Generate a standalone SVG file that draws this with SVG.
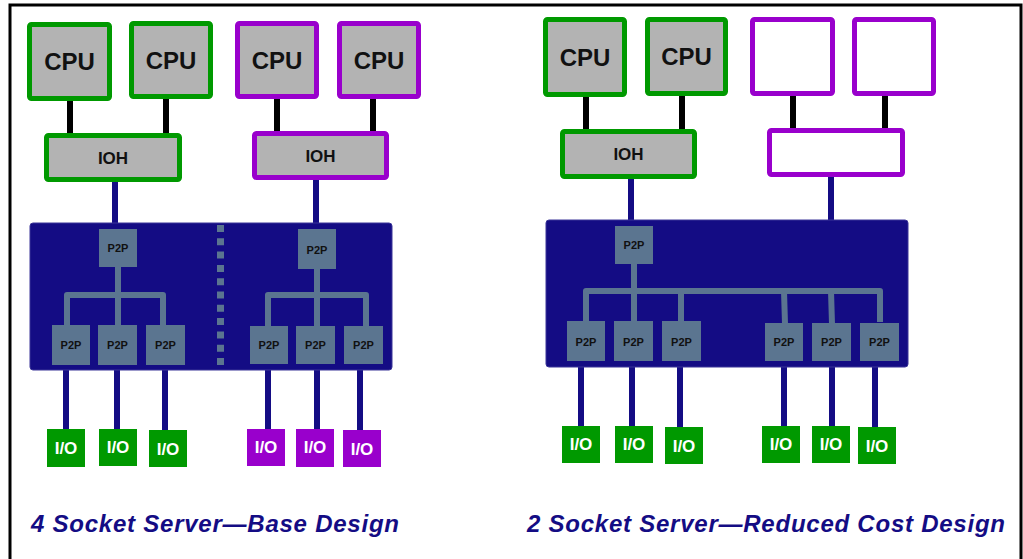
<svg xmlns="http://www.w3.org/2000/svg" width="1023" height="559" viewBox="0 0 1023 559">
<style>
.cpu{fill:#b3b3b3;stroke-width:5}
.g{stroke:#009900}
.p{stroke:#9900cc}
.empty{fill:#ffffff;stroke-width:5}
.board{fill:#140c84;stroke:#3a3498;stroke-width:1}
.p2p{fill:#5b7590}
.io{stroke:none}
.iog{fill:#009900}
.iop{fill:#9900cc}
.blk{stroke:#000000;stroke-width:6;fill:none}
.nav{stroke:#140c84;stroke-width:6;fill:none}
.tree{stroke:#5b7590;stroke-width:6;fill:none;stroke-linejoin:round}
.tc{font-family:"Liberation Sans",Arial,sans-serif;font-weight:bold;text-anchor:middle}
.t-cpu{font-size:24px;fill:#111111}
.t-ioh{font-size:17px;fill:#111111}
.t-p2p{font-size:11px;fill:#111111}
.t-io{font-size:17px;fill:#ffffff}
.cap{font-family:"Liberation Sans",Arial,sans-serif;font-weight:bold;font-style:italic;font-size:24px;fill:#140c84}
</style>
<rect x="0" y="0" width="1023" height="559" fill="#ffffff"/>
<path d="M10,559 V5 H1021 V559" fill="none" stroke="#000000" stroke-width="3"/>

<g id="connectors">
  <!-- left: CPU to IOH -->
  <line class="blk" x1="70" y1="100" x2="70" y2="134"/>
  <line class="blk" x1="166" y1="99" x2="166" y2="134"/>
  <line class="blk" x1="277" y1="99" x2="277" y2="132"/>
  <line class="blk" x1="373" y1="99" x2="373" y2="132"/>
  <!-- left: IOH to board -->
  <line class="nav" x1="115" y1="180" x2="115" y2="224"/>
  <line class="nav" x1="316" y1="178" x2="316" y2="224"/>
  <!-- right: CPU to IOH -->
  <line class="blk" x1="586" y1="96" x2="586" y2="130"/>
  <line class="blk" x1="682" y1="96" x2="682" y2="130"/>
  <line class="blk" x1="793" y1="96" x2="793" y2="129"/>
  <line class="blk" x1="885" y1="96" x2="885" y2="129"/>
  <line class="nav" x1="631" y1="177" x2="631" y2="221"/>
  <line class="nav" x1="831" y1="175" x2="831" y2="221"/>
  <!-- left: board to IO -->
  <line class="nav" x1="66" y1="369" x2="66" y2="430"/>
  <line class="nav" x1="117" y1="369" x2="117" y2="430"/>
  <line class="nav" x1="165" y1="369" x2="165" y2="431"/>
  <line class="nav" x1="268" y1="369" x2="268" y2="430"/>
  <line class="nav" x1="317" y1="369" x2="317" y2="430"/>
  <line class="nav" x1="360" y1="369" x2="360" y2="431"/>
  <!-- right: board to IO -->
  <line class="nav" x1="581" y1="366" x2="581" y2="427"/>
  <line class="nav" x1="632" y1="366" x2="632" y2="427"/>
  <line class="nav" x1="680" y1="366" x2="680" y2="428"/>
  <line class="nav" x1="784" y1="366" x2="784" y2="427"/>
  <line class="nav" x1="832" y1="366" x2="832" y2="427"/>
  <line class="nav" x1="875" y1="366" x2="875" y2="428"/>
</g>

<g id="board-left">
  <rect class="board" x="30" y="223" width="362" height="147" rx="3"/>
  <line x1="220.5" y1="225" x2="220.5" y2="366" stroke="#5b7590" stroke-width="7" stroke-dasharray="7 6.3"/>
  <path class="tree" d="M118,266 V295 M67,326 V295 H163 V326 M118,295 V326"/>
  <path class="tree" d="M317,268 V295 M268,327 V295 H366 V327 M317,295 V327"/>
</g>
<g id="board-right">
  <rect class="board" x="546" y="220" width="362" height="147" rx="3"/>
  <path class="tree" d="M634,263 V291 M586,322 V291 H880 V322 M634,291 V322 M681,291 V322 M784,291 L785,324 M831,291 L832,324"/>
</g>

<g id="cpu-l1"><rect class="cpu g" x="29.5" y="24.5" width="80" height="74" rx="2"/><text class="tc t-cpu" x="69.5" y="70">CPU</text></g>
<g id="cpu-l2"><rect class="cpu g" x="131.5" y="23.5" width="79" height="73" rx="2"/><text class="tc t-cpu" x="171" y="69">CPU</text></g>
<g id="cpu-l3"><rect class="cpu p" x="237.5" y="23.5" width="79" height="73" rx="2"/><text class="tc t-cpu" x="277" y="69">CPU</text></g>
<g id="cpu-l4"><rect class="cpu p" x="339.5" y="23.5" width="79" height="73" rx="2"/><text class="tc t-cpu" x="379" y="69">CPU</text></g>
<g id="ioh-l1"><rect class="cpu g" x="46.5" y="135.5" width="133" height="44" rx="2"/><text class="tc t-ioh" x="113" y="164">IOH</text></g>
<g id="ioh-l2"><rect class="cpu p" x="254.5" y="133.5" width="132" height="44" rx="2"/><text class="tc t-ioh" x="320.5" y="162">IOH</text></g>

<g id="cpu-r1"><rect class="cpu g" x="545.5" y="19.5" width="79" height="75" rx="2"/><text class="tc t-cpu" x="585" y="66">CPU</text></g>
<g id="cpu-r2"><rect class="cpu g" x="647.5" y="19.5" width="78" height="74" rx="2"/><text class="tc t-cpu" x="686.5" y="65">CPU</text></g>
<g id="empty-r3"><rect class="empty p" x="752.5" y="19.5" width="80" height="74" rx="2"/></g>
<g id="empty-r4"><rect class="empty p" x="854.5" y="19.5" width="79" height="74" rx="2"/></g>
<g id="ioh-r1"><rect class="cpu g" x="562.5" y="131.5" width="132" height="45" rx="2"/><text class="tc t-ioh" x="628.5" y="160">IOH</text></g>
<g id="empty-ioh-r2"><rect class="empty p" x="769.5" y="130.5" width="133" height="44" rx="2"/></g>

<g id="p2p-l0"><rect class="p2p" x="99" y="229" width="38" height="38"/><text class="tc t-p2p" x="118" y="252">P2P</text></g>
<g id="p2p-l1"><rect class="p2p" x="52" y="325" width="38" height="40"/><text class="tc t-p2p" x="71" y="349">P2P</text></g>
<g id="p2p-l2"><rect class="p2p" x="98" y="325" width="39" height="40"/><text class="tc t-p2p" x="117.5" y="349">P2P</text></g>
<g id="p2p-l3"><rect class="p2p" x="146" y="325" width="39" height="40"/><text class="tc t-p2p" x="165.5" y="349">P2P</text></g>
<g id="p2p-l4"><rect class="p2p" x="298" y="229" width="38" height="40"/><text class="tc t-p2p" x="317" y="254">P2P</text></g>
<g id="p2p-l5"><rect class="p2p" x="250" y="326" width="38" height="38"/><text class="tc t-p2p" x="269" y="349">P2P</text></g>
<g id="p2p-l6"><rect class="p2p" x="296" y="326" width="39" height="38"/><text class="tc t-p2p" x="315.5" y="349">P2P</text></g>
<g id="p2p-l7"><rect class="p2p" x="344" y="326" width="39" height="38"/><text class="tc t-p2p" x="363.5" y="349">P2P</text></g>

<g id="p2p-r0"><rect class="p2p" x="615" y="226" width="38" height="38"/><text class="tc t-p2p" x="634" y="249">P2P</text></g>
<g id="p2p-r1"><rect class="p2p" x="567" y="321" width="38" height="40"/><text class="tc t-p2p" x="586" y="346">P2P</text></g>
<g id="p2p-r2"><rect class="p2p" x="614" y="321" width="39" height="40"/><text class="tc t-p2p" x="633.5" y="346">P2P</text></g>
<g id="p2p-r3"><rect class="p2p" x="662" y="321" width="39" height="40"/><text class="tc t-p2p" x="681.5" y="346">P2P</text></g>
<g id="p2p-r4"><rect class="p2p" x="765" y="323" width="38" height="38"/><text class="tc t-p2p" x="784" y="346">P2P</text></g>
<g id="p2p-r5"><rect class="p2p" x="812" y="323" width="39" height="38"/><text class="tc t-p2p" x="831.5" y="346">P2P</text></g>
<g id="p2p-r6"><rect class="p2p" x="860" y="323" width="39" height="38"/><text class="tc t-p2p" x="879.5" y="346">P2P</text></g>

<g id="io-l1"><rect class="iog" x="47" y="429" width="38" height="38"/><text class="tc t-io" x="66" y="454">I/O</text></g>
<g id="io-l2"><rect class="iog" x="99" y="429" width="38" height="37"/><text class="tc t-io" x="118" y="453">I/O</text></g>
<g id="io-l3"><rect class="iog" x="149" y="430" width="38" height="37"/><text class="tc t-io" x="168" y="455">I/O</text></g>
<g id="io-l4"><rect class="iop" x="247" y="429" width="38" height="37"/><text class="tc t-io" x="266" y="453">I/O</text></g>
<g id="io-l5"><rect class="iop" x="296" y="429" width="38" height="38"/><text class="tc t-io" x="315" y="453">I/O</text></g>
<g id="io-l6"><rect class="iop" x="343" y="430" width="38" height="37"/><text class="tc t-io" x="362" y="455">I/O</text></g>

<g id="io-r1"><rect class="iog" x="562" y="426" width="38" height="37"/><text class="tc t-io" x="581" y="450">I/O</text></g>
<g id="io-r2"><rect class="iog" x="615" y="426" width="38" height="37"/><text class="tc t-io" x="634" y="450">I/O</text></g>
<g id="io-r3"><rect class="iog" x="665" y="427" width="38" height="37"/><text class="tc t-io" x="684" y="452">I/O</text></g>
<g id="io-r4"><rect class="iog" x="762" y="426" width="38" height="37"/><text class="tc t-io" x="781" y="450">I/O</text></g>
<g id="io-r5"><rect class="iog" x="812" y="426" width="38" height="37"/><text class="tc t-io" x="831" y="450">I/O</text></g>
<g id="io-r6"><rect class="iog" x="858" y="427" width="38" height="37"/><text class="tc t-io" x="877" y="452">I/O</text></g>

<g id="captions">
  <text class="cap" x="31" y="532" textLength="368" lengthAdjust="spacing">4 Socket Server—Base Design</text>
  <text class="cap" x="527" y="532" textLength="478" lengthAdjust="spacing">2 Socket Server—Reduced Cost Design</text>
</g>
</svg>
